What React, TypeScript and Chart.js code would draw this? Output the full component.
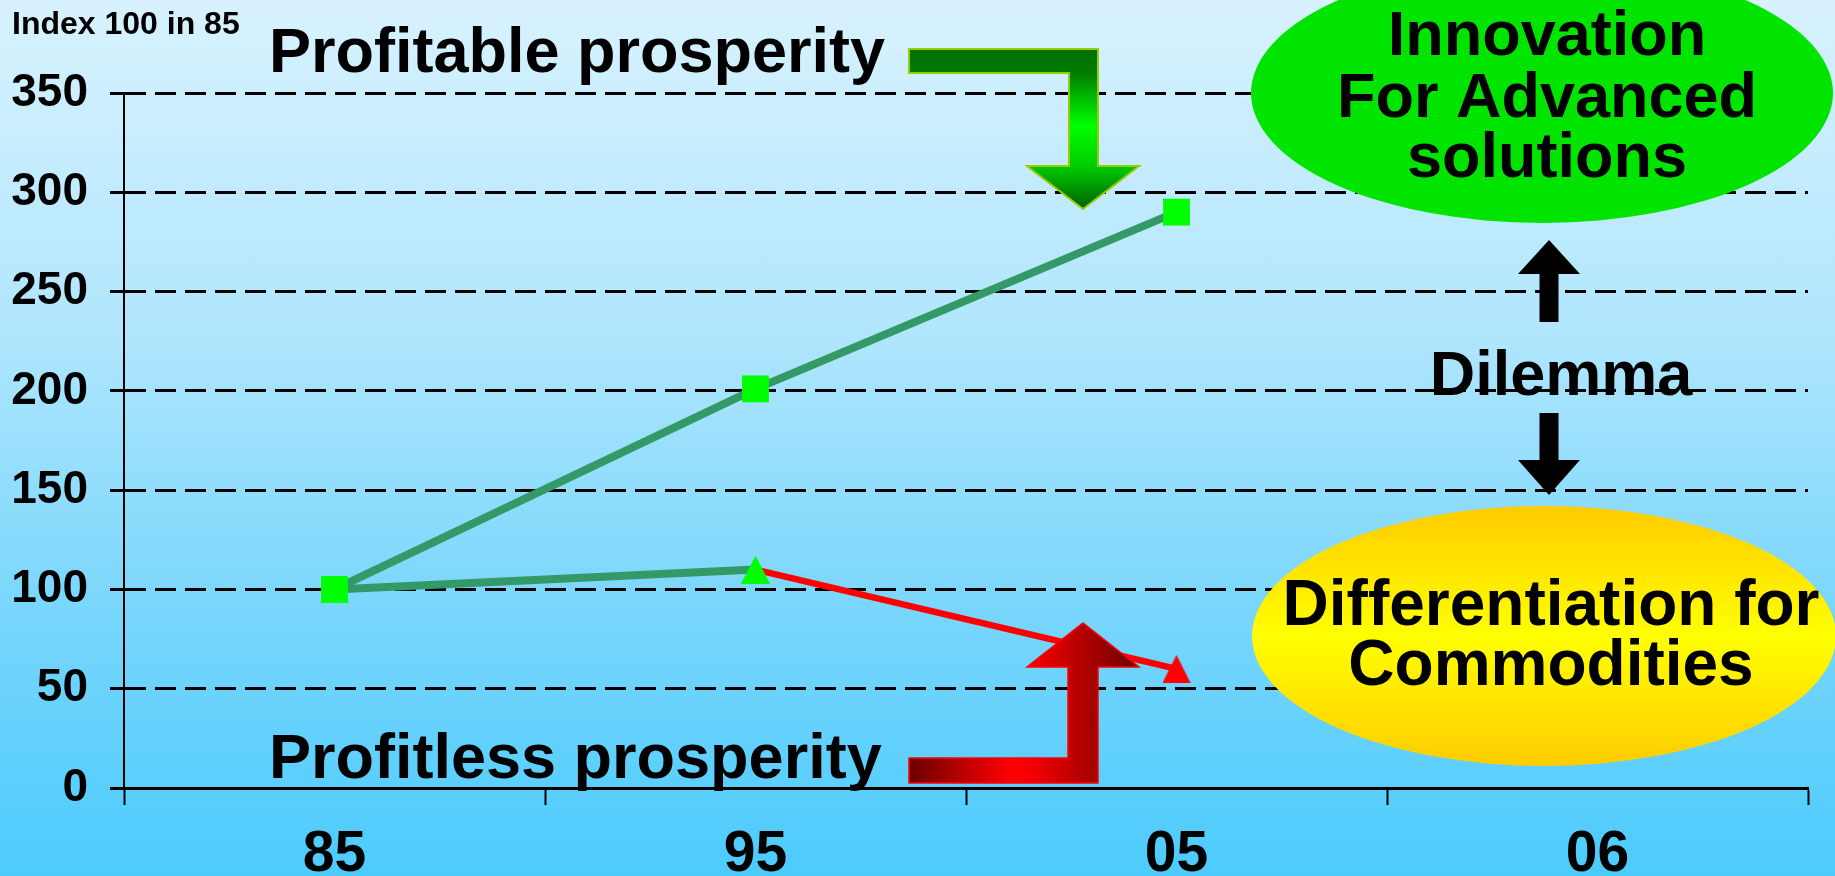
import { useEffect, useRef } from 'react';
import { Chart, registerables } from 'chart.js';

Chart.register(...registerables);

const W = 1835;
const H = 876;

// Index values (1985 = 100)
const categories = ['85', '95', '05', '06'];
const advancedSolutions = [100, 201, 290, null];
const commodities = [100, 110, 60, null];

const yMin = 0;
const yMax = 350;
const yStep = 50;

const commoditySegmentColors = ['#339966', '#ff0000'];
const commodityMarkerColors = ['#00ff00', '#00ff00', '#ff0000', '#ff0000'];

const axisTitle = 'Index 100 in 85';
const upperCaption = 'Profitable prosperity';
const lowerCaption = 'Profitless prosperity';
const upperBubble = ['Innovation', 'For Advanced', 'solutions'];
const lowerBubble = ['Differentiation for', 'Commodities'];
const middleCaption = 'Dilemma';

const FONT = '"Liberation Sans", Arial, sans-serif';

function triangleMarker(color: string, w: number, h: number) {
  const c = document.createElement('canvas');
  c.width = w;
  c.height = h;
  const g = c.getContext('2d')!;
  g.fillStyle = color;
  g.beginPath();
  g.moveTo(w / 2, 0);
  g.lineTo(w, h);
  g.lineTo(0, h);
  g.closePath();
  g.fill();
  return c;
}

function polygon(ctx: CanvasRenderingContext2D, pts: number[][]) {
  ctx.beginPath();
  ctx.moveTo(pts[0][0], pts[0][1]);
  for (let i = 1; i < pts.length; i++) ctx.lineTo(pts[i][0], pts[i][1]);
  ctx.closePath();
}

const decorations = {
  id: 'decorations',
  afterDraw(chart: Chart) {
    const ctx = chart.ctx;
    ctx.save();

    // Upper bubble
    ctx.beginPath();
    ctx.ellipse(1542, 93, 291, 130, 0, 0, Math.PI * 2);
    ctx.fillStyle = '#00e400';
    ctx.fill();

    // Lower bubble
    const yg = ctx.createLinearGradient(0, 506, 0, 766);
    yg.addColorStop(0, '#ffcc00');
    yg.addColorStop(0.5, '#ffff00');
    yg.addColorStop(1, '#ffcc00');
    ctx.beginPath();
    ctx.ellipse(1544, 636, 292, 130, 0, 0, Math.PI * 2);
    ctx.fillStyle = yg;
    ctx.fill();

    ctx.fillStyle = '#000';
    ctx.textAlign = 'center';
    ctx.textBaseline = 'alphabetic';
    ctx.font = `bold 63px ${FONT}`;
    const upBase = [55, 117, 177];
    upperBubble.forEach((t, i) => ctx.fillText(t, 1547, upBase[i]));
    ctx.font = `bold 64px ${FONT}`;
    const lowBase = [625, 685];
    lowerBubble.forEach((t, i) => ctx.fillText(t, 1551, lowBase[i]));

    // Dilemma arrows
    ctx.fillStyle = '#000';
    polygon(ctx, [
      [1549, 240], [1580, 274], [1558.5, 274], [1558.5, 322],
      [1539.5, 322], [1539.5, 274], [1518, 274],
    ]);
    ctx.fill();
    polygon(ctx, [
      [1539.5, 413], [1558.5, 413], [1558.5, 460], [1580, 460],
      [1549, 495], [1518, 460], [1539.5, 460],
    ]);
    ctx.fill();
    ctx.font = `bold 63px ${FONT}`;
    ctx.fillText(middleCaption, 1561, 395);

    // Bent green arrow
    const gg = ctx.createLinearGradient(0, 49, 0, 209);
    gg.addColorStop(0, '#007000');
    gg.addColorStop(0.15, '#007c00');
    gg.addColorStop(0.48, '#00ff00');
    gg.addColorStop(0.73, '#00cc00');
    gg.addColorStop(1, '#006000');
    polygon(ctx, [
      [909, 49], [1098, 49], [1098, 166], [1139, 166], [1083, 209],
      [1027, 166], [1069, 166], [1069, 73], [909, 73],
    ]);
    ctx.fillStyle = gg;
    ctx.fill();
    ctx.lineWidth = 2;
    ctx.strokeStyle = '#99cc00';
    ctx.stroke();

    // Bent red arrow
    const rg = ctx.createLinearGradient(909, 0, 1139, 0);
    rg.addColorStop(0, '#6a0000');
    rg.addColorStop(0.44, '#ff0000');
    rg.addColorStop(0.55, '#f00000');
    rg.addColorStop(1, '#6a0000');
    polygon(ctx, [
      [909, 758], [1068, 758], [1068, 667], [1027, 667], [1083, 623],
      [1139, 667], [1098, 667], [1098, 783], [909, 783],
    ]);
    ctx.fillStyle = rg;
    ctx.fill();
    ctx.lineWidth = 1.5;
    ctx.strokeStyle = '#ff0000';
    ctx.stroke();

    // Captions
    ctx.fillStyle = '#000';
    ctx.textAlign = 'left';
    ctx.font = `bold 63px ${FONT}`;
    ctx.fillText(upperCaption, 269, 72);
    ctx.fillText(lowerCaption, 269, 778);
    ctx.font = `bold 32px ${FONT}`;
    ctx.fillText(axisTitle, 12, 34);

    ctx.restore();
  },
};

export default function App() {
  const ref = useRef<HTMLCanvasElement>(null);

  useEffect(() => {
    const canvas = ref.current!;
    const greenTri = triangleMarker('#00ff00', 29, 28);
    const redTri = triangleMarker('#ff0000', 28, 28);

    const chart = new Chart(canvas, {
      type: 'line',
      data: {
        labels: categories,
        datasets: [
          {
            label: 'Advanced solutions',
            data: advancedSolutions,
            borderColor: '#339966',
            borderWidth: 8,
            tension: 0,
            pointStyle: 'rect',
            pointRadius: 19,
            pointBackgroundColor: '#00ff00',
            pointBorderWidth: 0,
          },
          {
            label: 'Commodities',
            data: commodities,
            borderColor: commoditySegmentColors[0],
            borderWidth: 8,
            tension: 0,
            segment: {
              borderColor: (c: any) => commoditySegmentColors[c.p0DataIndex] ?? commoditySegmentColors[1],
              borderWidth: (c: any) => (c.p0DataIndex === 0 ? 8 : 6.5),
            },
            pointStyle: commodityMarkerColors.map((col) => (col === '#00ff00' ? greenTri : redTri)),
            pointRadius: 14,
            pointBackgroundColor: commodityMarkerColors,
            pointBorderWidth: 0,
          },
        ],
      },
      options: {
        responsive: false,
        animation: false,
        devicePixelRatio: 1,
        layout: { padding: { top: 93, right: 27, left: 0, bottom: 0 } },
        plugins: {
          legend: { display: false },
          tooltip: { enabled: false },
        },
        scales: {
          x: {
            offset: true,
            grid: {
              offset: true,
              drawOnChartArea: false,
              drawTicks: true,
              tickLength: 17,
              tickColor: '#000',
              tickWidth: 2,
            },
            border: { display: true, color: '#000', width: 3 },
            ticks: {
              color: '#000',
              font: { family: FONT, size: 57, weight: 'bold' },
              padding: 16,
              maxRotation: 0,
            },
            afterFit: (s: any) => {
              s.height = 88;
            },
          },
          y: {
            min: yMin,
            max: yMax,
            grid: {
              color: '#000',
              lineWidth: 3,
              tickLength: 14,
              tickColor: '#000',
              tickWidth: 3,
              tickBorderDash: [21, 9],
            },
            border: { display: true, color: '#000', width: 2, dash: [21, 9] },
            ticks: {
              stepSize: yStep,
              color: '#000',
              font: { family: FONT, size: 46, weight: 'bold' },
              padding: 22,
            },
            afterFit: (s: any) => {
              s.width = 124;
            },
          },
        },
      },
      plugins: [decorations],
    });

    return () => chart.destroy();
  }, []);

  return (
    <div
      style={{
        position: 'absolute',
        left: 0,
        top: 0,
        width: W,
        height: H,
        background: 'linear-gradient(to bottom, #d8f2fe 0%, #b0e6fd 38%, #78d6fc 70%, #4ccbfc 100%)',
      }}
    >
      <canvas ref={ref} width={W} height={H} style={{ display: 'block', width: W, height: H }} />
    </div>
  );
}
